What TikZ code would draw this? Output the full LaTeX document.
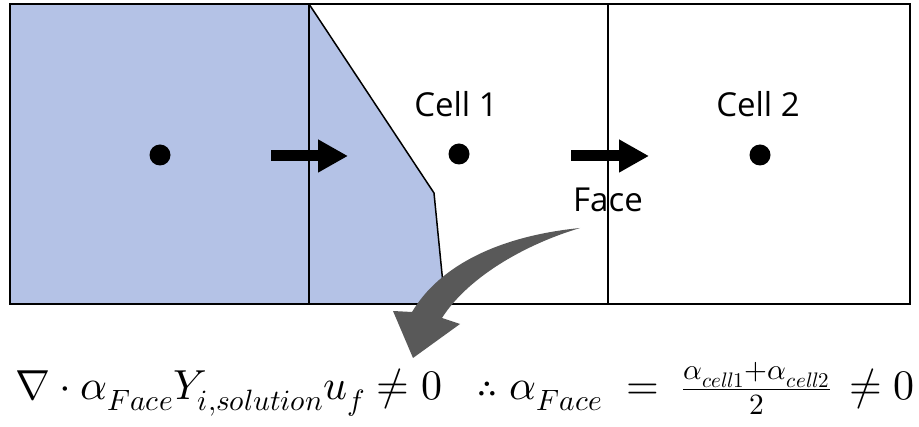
\documentclass[tikz,border=0pt]{standalone}
\usepackage{fontspec}
\usepackage{unicode-math}
\setmainfont{Open Sans}
\setmathfont{Latin Modern Math}
\usetikzlibrary{arrows.meta}

\definecolor{phase}{RGB}{180,194,230}
\definecolor{pfeilgrau}{RGB}{89,89,89}

\begin{document}
\begin{tikzpicture}[x=1pt,y=-1pt,
  zelle/.style={font=\fontsize{33}{36}\selectfont, anchor=base, inner sep=0pt},
  formel/.style={font=\fontsize{42}{48}\selectfont, inner sep=0pt},
  punkt/.style={circle, fill=black, inner sep=0pt, minimum size=21pt},
  fluss/.style={line width=11pt, -{Triangle[length=30pt,width=31pt]}}]

\useasboundingbox (0,0) rectangle (919,427);

% Grenzen des Gitters
\def\xl{10}
\def\xa{309}
\def\xb{608}
\def\xr{910}
\def\yo{4}
\def\yu{304}

% ------------------- Phase -------------------
\fill[phase] (\xl,\yo) -- (\xa,\yo) -- (434,193) -- (445,\yu) -- (\xl,\yu) -- cycle;
\draw[line width=1.5pt] (\xa,\yo) -- (434,193) -- (445,\yu);

% ------------------- Gitter -------------------
\draw[line width=1.5pt] (\xa,\yo) -- (\xa,\yu);
\draw[line width=1.5pt] (\xb,\yo) -- (\xb,\yu);
\draw[line width=2pt] (\xl,\yo) rectangle (\xr,\yu);

% Zellmittelpunkte
\node[punkt] (p0) at (160,155) {};
\node[punkt] (p1) at (459,154) {};
\node[punkt] (p2) at (760,155) {};

% Beschriftungen
\node[zelle] (c1) at (456,117) {Cell 1};
\node[zelle] (c2) at (758,117) {Cell 2};
\node[zelle] (face) at (608,212) {Face};

% Flusspfeile
\coordinate (f1a) at (271,156);
\coordinate (f1b) at (348,156);
\coordinate (f2a) at (571,156);
\coordinate (f2b) at (649,156);
\draw[fluss] (f1a) -- (f1b);
\draw[fluss] (f2a) -- (f2b);

% Gebogener Pfeil zur Gleichung
\fill[pfeilgrau] (580,228) .. controls (500,236) and (440,265) .. (412,312)
  -- (393,311) -- (413,358) -- (460,324) -- (442,318)
  .. controls (466,280) and (520,246) .. (580,228) -- cycle;

% ------------------- Gleichungen -------------------
\node[formel, anchor=base west] (eq1) at (15,400)
  {$\nabla\cdot\alpha_{Face}Y_{i,solution}u_f\neq 0$};
\node[formel, anchor=base east] (eq2) at (915,400)
  {$\therefore\;\alpha_{Face}\;=\;\frac{\alpha_{cell1}+\alpha_{cell2}}{2}\,\neq 0$};

\end{tikzpicture}
\end{document}
